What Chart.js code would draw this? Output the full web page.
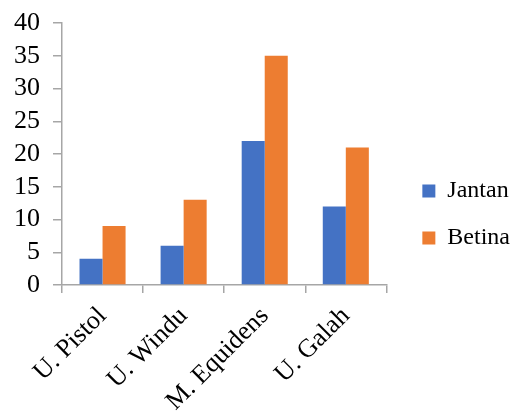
<!DOCTYPE html>
<html>
<head>
<meta charset="utf-8">
<script src="https://cdn.jsdelivr.net/npm/chart.js@4"></script>
<style>
  html, body { margin: 0; padding: 0; background: #fff; }
  #wrap { width: 516px; height: 412px; }
</style>
</head>
<body>
<div id="wrap"><canvas id="c" width="516" height="412"></canvas></div>
<script>
// Species and counts per sex
const categories = ['U. Pistol', 'U. Windu', 'M. Equidens', 'U. Galah'];
const jantan = [4, 6, 22, 12];
const betina = [9, 13, 35, 21];
const yTicks = [0, 5, 10, 15, 20, 25, 30, 35, 40];

const FONT = 'Liberation Serif, Times New Roman, serif';
const AXIS = '#a6a6a6';

// nudge the legend block to sit a little further right and lower
const legendNudge = {
  id: 'legendNudge',
  afterLayout(chart) {
    const lg = chart.legend;
    if (!lg) return;
    const dx = 13, dy = -3;
    lg.left += dx; lg.right += dx;
    lg.top += dy; lg.bottom += dy;
  }
};

new Chart(document.getElementById('c'), {
  type: 'bar',
  data: {
    labels: categories,
    datasets: [
      { label: 'Jantan', data: jantan, backgroundColor: '#4472c4' },
      { label: 'Betina', data: betina, backgroundColor: '#ed7d31' }
    ]
  },
  plugins: [legendNudge],
  options: {
    responsive: false,
    animation: false,
    devicePixelRatio: 1,
    layout: { padding: { top: 23, left: 0, right: 9, bottom: 0 } },
    datasets: { bar: { categoryPercentage: 0.568, barPercentage: 1.0 } },
    plugins: {
      tooltip: { enabled: false },
      legend: {
        position: 'right',
        labels: {
          font: { family: FONT, size: 24 },
          color: '#000',
          boxWidth: 13,
          boxHeight: 13,
          padding: 23
        }
      }
    },
    scales: {
      x: {
        afterFit(scale) { scale.height = 127; },
        grid: { offset: true, drawOnChartArea: false, color: AXIS, tickLength: 8, lineWidth: 1.5 },
        border: { color: AXIS, width: 1.5 },
        ticks: {
          font: { family: FONT, size: 26 },
          color: '#000',
          minRotation: 45,
          maxRotation: 45,
          autoSkip: false,
          padding: 8
        }
      },
      y: {
        min: 0,
        max: 40,
        afterBuildTicks(scale) { scale.ticks = yTicks.map(v => ({ value: v })); },
        afterFit(scale) {
          scale.width = 62;
          scale.paddingTop = 0;
          scale.paddingBottom = 0;
        },
        grid: { drawOnChartArea: false, color: AXIS, tickLength: 9, lineWidth: 1.5 },
        border: { color: AXIS, width: 1.5 },
        ticks: {
          font: { family: FONT, size: 26 },
          color: '#000',
          autoSkip: false,
          padding: 13
        }
      }
    }
  }
});
</script>
</body>
</html>
